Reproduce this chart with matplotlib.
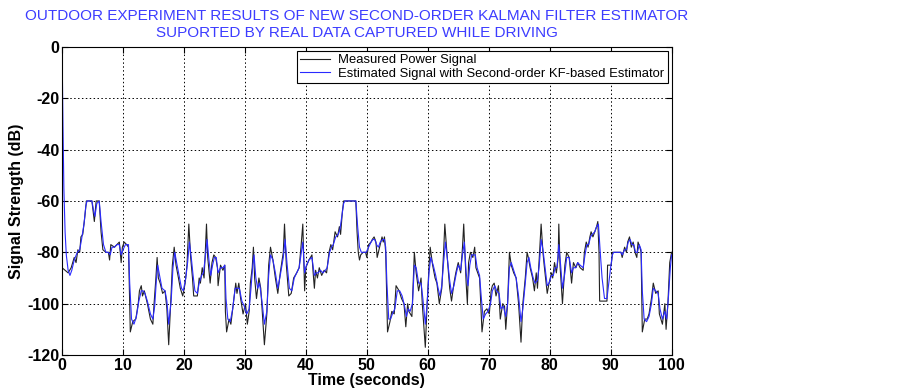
import matplotlib
matplotlib.use("Agg")
import matplotlib.pyplot as plt

# measured power signal (time s, dB)
meas_t = [0.0, 0.5, 1.0, 1.5, 2.0, 2.3, 2.6, 2.9, 3.1, 3.4, 3.7, 4.0, 4.9, 5.1, 5.3, 5.6, 6.1,
          6.4, 6.7, 7.2, 7.6, 7.8, 8.0, 8.6, 9.0, 9.4, 9.7, 9.9, 10.2, 10.6, 10.9, 11.1, 11.2,
          11.6, 12.1, 12.5, 12.7, 13.0, 13.2, 13.5, 14.0, 14.5, 14.9, 15.1, 15.4, 15.6, 15.8,
          16.1, 16.5, 16.9, 17.2, 17.5, 17.9, 18.1, 18.4, 18.7, 19.1, 19.4, 19.8, 20.2, 20.5,
          20.8, 21.1, 21.4, 21.6, 22.2, 22.5, 22.7, 23.0, 23.3, 23.5, 23.7, 23.9, 24.3, 24.6,
          24.9, 25.2, 25.5, 25.6, 26.0, 26.4, 26.7, 26.8, 27.0, 27.4, 27.7, 28.1, 28.5, 28.7,
          29.0, 29.3, 29.7, 30.1, 30.4, 30.7, 30.9, 31.2, 31.4, 31.6, 31.9, 32.3, 32.6, 32.9,
          33.2, 33.6, 33.9, 34.2, 34.6, 35.0, 35.4, 35.8, 36.3, 36.5, 36.8, 37.2, 37.6, 38.0,
          38.5, 38.9, 39.2, 39.5, 39.8, 40.0, 40.5, 41.0, 41.2, 41.4, 41.6, 41.9, 42.2, 42.6,
          43.0, 43.4, 43.8, 44.1, 44.4, 44.8, 45.2, 45.5, 45.7, 46.0, 46.2, 48.2, 48.4, 48.6,
          48.8, 49.0, 49.4, 49.8, 50.0, 50.3, 50.7, 50.9, 51.2, 51.5, 51.7, 52.1, 52.5, 52.7,
          52.9, 53.1, 53.3, 53.4, 53.8, 54.1, 54.5, 54.8, 55.3, 55.7, 56.1, 56.4, 56.7, 56.9,
          57.4, 57.8, 58.1, 58.5, 58.9, 59.1, 59.6, 59.9, 60.2, 60.4, 60.8, 61.2, 61.5, 61.9,
          62.3, 62.6, 62.8, 63.2, 63.6, 63.9, 64.3, 64.6, 65.0, 65.4, 65.7, 65.9, 66.3, 66.5,
          66.7, 67.0, 67.4, 67.7, 67.9, 68.2, 68.5, 68.7, 68.9, 69.3, 69.7, 70.1, 70.4, 70.6,
          70.9, 71.2, 71.6, 71.9, 72.3, 72.6, 72.8, 73.1, 73.4, 73.7, 74.1, 74.5, 74.9, 75.3,
          75.6, 76.0, 76.3, 76.5, 76.8, 77.2, 77.5, 77.8, 78.0, 78.3, 78.6, 78.9, 79.1, 79.6,
          79.9, 80.3, 80.5, 80.8, 81.1, 81.4, 81.5, 81.7, 82.1, 82.5, 82.8, 83.2, 83.6, 83.9,
          84.3, 84.6, 85.0, 85.5, 85.7, 86.0, 86.3, 86.6, 86.8, 87.1, 87.4, 87.7, 87.9, 88.1,
          88.2, 89.4, 89.5, 90.1, 90.3, 91.7, 91.9, 92.3, 92.6, 92.8, 93.1, 93.4, 93.7, 94.0,
          94.3, 94.5, 94.8, 95.0, 95.2, 95.6, 96.0, 96.3, 96.7, 97.0, 97.4, 97.8, 98.0, 98.5,
          98.9, 99.1, 99.4, 99.7, 100.0]
meas_v = [-86, -87, -88, -86, -82, -84, -79, -80, -74, -73, -67, -60, -60, -64, -68, -60, -60,
          -72, -79, -80, -80, -83, -77, -78, -77, -76, -84, -78, -76, -77, -78, -100, -111,
          -107, -106, -100, -95, -93, -97, -95, -100, -106, -108, -100, -90, -82, -90,
          -92, -96, -95, -102, -116, -96, -85, -78, -85, -90, -94, -97, -92, -85,
          -69, -82, -90, -97, -97, -90, -92, -86, -90, -80, -69, -82, -92, -84,
          -81, -82, -86, -93, -85, -87, -85, -103, -111, -106, -108, -100, -92, -96,
          -92, -98, -104, -100, -108, -103, -92, -86, -78, -90, -98, -90, -94, -105,
          -116, -104, -85, -78, -83, -90, -96, -88, -80, -69, -85, -97, -96, -90,
          -88, -86, -78, -69, -95, -86, -83, -81, -88, -94, -87, -90, -86, -89,
          -87, -88, -80, -77, -79, -72, -74, -70, -73, -64, -60, -60, -72, -80,
          -83, -81, -80, -80, -82, -77, -76, -75, -74, -76, -82, -78, -74, -76,
          -74, -80, -100, -111, -107, -103, -104, -93, -95, -98, -100, -109, -100, -103,
          -105, -80, -88, -95, -90, -100, -117, -100, -86, -78, -85, -90, -92, -100,
          -94, -80, -69, -82, -94, -99, -92, -88, -84, -88, -78, -69, -92, -100,
          -84, -80, -82, -78, -86, -88, -90, -100, -111, -103, -102, -104, -95, -93,
          -92, -97, -93, -106, -100, -101, -110, -100, -80, -85, -88, -90, -100, -115,
          -100, -90, -80, -82, -86, -90, -95, -88, -94, -82, -69, -80, -85, -96,
          -92, -88, -90, -84, -88, -82, -69, -85, -100, -85, -80, -82, -92, -84,
          -86, -84, -86, -87, -80, -76, -78, -74, -72, -74, -72, -70, -68, -80,
          -99, -99, -85, -85, -80, -80, -82, -78, -80, -76, -74, -78, -76, -80,
          -82, -76, -78, -80, -111, -106, -106, -104, -98, -92, -96, -95, -104, -108,
          -100, -110, -100, -84, -80]

# estimated signal, second-order KF-based estimator (time s, dB)
est_t = [0.0, 0.15, 0.3, 0.5, 0.7, 1.0, 1.3, 1.6, 2.0, 2.5, 2.9, 3.2, 3.6, 3.9, 4.1, 4.9, 5.2,
         5.4, 5.7, 6.1, 6.4, 6.8, 7.2, 7.6, 7.9, 8.2, 8.6, 9.0, 9.4, 9.7, 10.0, 10.4, 10.9,
         11.1, 11.4, 11.8, 12.2, 12.6, 13.0, 13.3, 13.6, 14.0, 14.5, 14.9, 15.2, 15.5, 15.7,
         16.0, 16.4, 16.9, 17.2, 17.5, 17.9, 18.2, 18.5, 18.8, 19.2, 19.6, 19.9, 20.3, 20.6,
         20.9, 21.2, 21.5, 21.8, 22.2, 22.5, 22.9, 23.2, 23.5, 23.8, 24.1, 24.4, 24.7, 25.0,
         25.3, 25.6, 26.0, 26.4, 26.7, 26.9, 27.2, 27.6, 28.0, 28.4, 28.8, 29.1, 29.5, 29.9,
         30.3, 30.7, 31.0, 31.3, 31.5, 31.8, 32.1, 32.4, 32.8, 33.2, 33.6, 33.9, 34.2, 34.6,
         35.0, 35.4, 35.8, 36.3, 36.6, 36.9, 37.3, 37.7, 38.1, 38.5, 38.9, 39.2, 39.5, 39.8,
         40.1, 40.5, 41.0, 41.4, 41.7, 42.0, 42.4, 42.8, 43.2, 43.5, 43.9, 44.2, 44.5, 44.9,
         45.3, 45.6, 45.9, 46.2, 46.4, 48.2, 48.5, 48.8, 49.1, 49.5, 49.9, 50.3, 50.7, 51.0,
         51.3, 51.6, 51.9, 52.2, 52.6, 52.9, 53.1, 53.3, 53.6, 53.9, 54.2, 54.6, 55.0, 55.4,
         55.8, 56.2, 56.5, 56.8, 57.1, 57.5, 57.8, 58.1, 58.5, 58.9, 59.2, 59.6, 59.9, 60.2,
         60.5, 60.9, 61.3, 61.7, 62.0, 62.3, 62.6, 62.9, 63.2, 63.6, 63.9, 64.3, 64.7, 65.0,
         65.4, 65.7, 66.0, 66.3, 66.6, 66.9, 67.2, 67.5, 67.8, 68.1, 68.5, 68.8, 69.1, 69.5,
         69.9, 70.3, 70.6, 71.0, 71.3, 71.7, 72.0, 72.4, 72.8, 73.1, 73.4, 73.7, 74.1, 74.5,
         74.9, 75.3, 75.6, 76.0, 76.3, 76.6, 76.9, 77.3, 77.6, 78.0, 78.3, 78.6, 78.9, 79.2,
         79.6, 79.9, 80.3, 80.6, 80.9, 81.2, 81.5, 81.8, 82.1, 82.5, 82.8, 83.2, 83.6, 83.9,
         84.3, 84.6, 85.0, 85.5, 85.8, 86.1, 86.4, 86.7, 87.0, 87.4, 87.7, 88.0, 88.3, 88.6,
         89.0, 89.4, 89.7, 90.0, 90.3, 90.5, 91.7, 91.9, 92.3, 92.6, 92.9, 93.2, 93.5, 93.8,
         94.1, 94.4, 94.7, 95.0, 95.2, 95.5, 95.9, 96.3, 96.7, 97.0, 97.4, 97.8, 98.1, 98.5,
         98.9, 99.2, 99.5, 99.8, 100.0]
est_v = [0, -30, -55, -72, -81, -87, -89, -87, -83, -80, -79, -75, -69, -62, -60, -60, -64,
         -66, -61, -60, -68, -77, -80, -80, -81, -78, -78, -77, -77, -81, -79, -77, -77,
         -92, -106, -108, -105, -99, -95, -95, -96, -99, -104, -106, -101, -90, -85,
         -89, -94, -95, -99, -108, -99, -86, -80, -84, -89, -94, -95, -90, -84,
         -76, -82, -89, -95, -96, -92, -89, -88, -82, -75, -83, -89, -85, -82,
         -82, -88, -86, -86, -85, -98, -106, -107, -102, -94, -94, -94, -99, -101,
         -104, -102, -94, -85, -81, -90, -94, -92, -99, -108, -103, -89, -81, -83,
         -88, -94, -89, -82, -75, -84, -94, -95, -90, -88, -86, -81, -76, -88,
         -85, -83, -82, -89, -88, -88, -87, -88, -87, -86, -80, -78, -77, -74,
         -73, -71, -66, -61, -60, -60, -70, -78, -80, -80, -80, -78, -76, -75,
         -75, -77, -78, -76, -75, -75, -78, -92, -106, -106, -104, -102, -95, -95,
         -97, -101, -105, -102, -103, -100, -85, -86, -92, -92, -98, -108, -100, -88,
         -82, -85, -89, -94, -97, -93, -84, -76, -82, -91, -96, -93, -88, -85,
         -87, -81, -76, -88, -93, -85, -81, -81, -81, -86, -89, -98, -106, -104,
         -103, -100, -95, -93, -95, -96, -102, -101, -105, -100, -86, -84, -87, -90,
         -97, -107, -102, -92, -84, -82, -86, -90, -92, -91, -85, -75, -79, -85,
         -93, -92, -89, -89, -86, -86, -77, -85, -94, -88, -82, -82, -88, -86,
         -86, -84, -85, -86, -81, -77, -77, -74, -73, -72, -70, -69, -80, -90,
         -98, -98, -92, -86, -81, -80, -80, -81, -79, -79, -76, -75, -77, -77,
         -80, -80, -77, -79, -95, -106, -107, -105, -100, -94, -95, -96, -102, -106,
         -103, -106, -97, -86, -81]

x_ticks = list(range(0, 101, 10))
y_ticks = list(range(-120, 1, 20))

plt.rcParams['font.family'] = ['Liberation Sans', 'DejaVu Sans']
plt.rcParams['axes.unicode_minus'] = False

fig = plt.figure(figsize=(9.03, 3.90), dpi=100)
ax = fig.add_axes([0.0687, 0.0897, 0.675, 0.79])

ax.plot(meas_t, meas_v, color='#222222', lw=0.8, label='Measured Power Signal')
ax.plot(est_t, est_v, color='#2a2aff', lw=0.8,
        label='Estimated Signal with Second-order KF-based Estimator')

ax.set_xlim(0, 100)
ax.set_ylim(-120, 0)
ax.set_xticks(x_ticks)
ax.set_yticks(y_ticks)
ax.tick_params(direction='in', top=True, right=True, length=4, width=0.8,
               labelsize=11.5, pad=2)
for lab in ax.get_xticklabels() + ax.get_yticklabels():
    lab.set_fontweight('bold')
ax.grid(True, color='black', linestyle=(0, (1.5, 2.5)), linewidth=0.7)
for sp in ax.spines.values():
    sp.set_linewidth(0.8)

ax.set_xlabel('Time (seconds)', fontsize=11.5, fontweight='bold', labelpad=0)
ax.set_ylabel('Signal Strength (dB)', fontsize=11.5, fontweight='bold', labelpad=2)

leg = ax.legend(loc='upper right', fontsize=9.4, fancybox=False, framealpha=1,
                edgecolor='black', handlelength=2.3, handletextpad=0.6,
                borderaxespad=0.3, borderpad=0.25, labelspacing=0.1)
leg.get_frame().set_linewidth(0.8)

fig.text(0.395, 0.978, 'OUTDOOR EXPERIMENT RESULTS OF NEW SECOND-ORDER KALMAN FILTER ESTIMATOR\n'
         'SUPORTED BY REAL DATA CAPTURED WHILE DRIVING',
         ha='center', va='top', color='#3c3cff', fontsize=11, linespacing=1.35)

fig.savefig('out.png', dpi=100, facecolor='white')
